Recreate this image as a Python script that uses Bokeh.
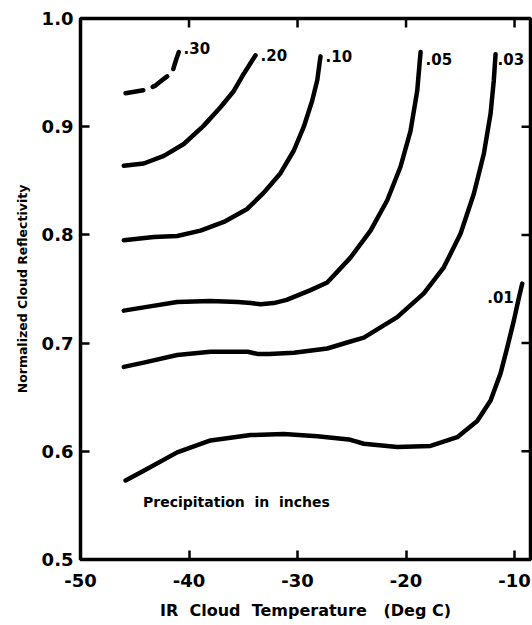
from bokeh.plotting import figure
from bokeh.models import FixedTicker, Range1d, Label
from bokeh.core.properties import value
from bokeh.embed import file_html
from bokeh.resources import INLINE

# ---- data ----
x_min, x_max = -50, -8.53
y_min, y_max = 0.5, 1.0
x_ticks = [-50, -40, -30, -20, -10]
x_tick_labels = ["-50", "-40", "-30", "-20", "-10"]
y_ticks = [0.5, 0.6, 0.7, 0.8, 0.9, 1.0]
y_tick_labels = ["0.5", "0.6", "0.7", "0.8", "0.9", "1.0"]

p30_x = [-45.85, -44.01, -43.09, -42.35, -41.55, -41.34, -41.15, -40.94]
p30_y = [0.931, 0.934, 0.938, 0.944, 0.950, 0.957, 0.963, 0.969]

p20_x = [-46.01, -44.17, -42.32, -40.48, -38.64, -37.10, -35.87, -34.95, -33.87]
p20_y = [0.864, 0.866, 0.873, 0.884, 0.901, 0.918, 0.933, 0.949, 0.966]

p10_x = [-46.01, -43.24, -41.09, -38.94, -36.79, -34.64, -33.11, -31.57, -30.34, -29.42, -28.65, -28.18, -27.94, -27.88]
p10_y = [0.795, 0.798, 0.799, 0.804, 0.812, 0.824, 0.839, 0.857, 0.878, 0.900, 0.924, 0.943, 0.961, 0.965]

p05_x = [-46.01, -44.17, -41.09, -38.02, -35.5, -34.3, -33.4, -32.2, -31.0, -28.80, -27.26, -25.12, -23.27, -21.73, -20.51, -19.59, -18.97, -18.66]
p05_y = [0.730, 0.733, 0.738, 0.739, 0.738, 0.737, 0.736, 0.737, 0.740, 0.749, 0.756, 0.779, 0.804, 0.832, 0.863, 0.896, 0.933, 0.969]

p03_x = [-46.01, -44.17, -41.09, -38.02, -34.6, -33.7, -32.6, -30.34, -27.26, -25.27, -23.89, -20.81, -18.36, -16.52, -14.98, -13.75, -12.83, -12.21, -11.91, -11.75]
p03_y = [0.678, 0.682, 0.689, 0.692, 0.692, 0.690, 0.690, 0.691, 0.695, 0.701, 0.705, 0.724, 0.746, 0.770, 0.801, 0.838, 0.875, 0.912, 0.943, 0.967]

p01_x = [-45.85, -44.17, -41.09, -38.02, -34.33, -31.26, -28.18, -25.27, -23.89, -20.81, -17.74, -15.28, -13.44, -12.21, -11.29, -10.67, -10.06, -9.60, -9.29]
p01_y = [0.573, 0.582, 0.599, 0.610, 0.615, 0.616, 0.614, 0.611, 0.607, 0.604, 0.605, 0.613, 0.628, 0.647, 0.672, 0.696, 0.721, 0.742, 0.755]

curve_labels = [".30", ".20", ".10", ".05", ".03", ".01"]
label_x = [-40.5, -33.41, -27.42, -18.20, -11.57, -12.52]
label_y = [0.973, 0.966, 0.965, 0.963, 0.963, 0.743]

FONT = "DejaVu Sans"
TICK_PX = 9

p = figure(width=532, height=625, output_backend="svg", toolbar_location=None,
           x_range=Range1d(x_min, x_max), y_range=Range1d(y_min, y_max),
           min_border_left=80, min_border_right=2, min_border_top=18, min_border_bottom=66)
p.background_fill_color = "white"
p.border_fill_color = "white"
p.outline_line_color = "black"
p.outline_line_width = 3.5
p.xgrid.grid_line_color = None
p.ygrid.grid_line_color = None

def style_axis(ax, ticks, labels):
    ax.ticker = FixedTicker(ticks=ticks)
    ax.axis_line_color = None
    ax.major_tick_in = TICK_PX
    ax.major_tick_out = 0
    ax.major_tick_line_width = 2.5
    ax.major_tick_line_color = "black"
    ax.minor_tick_line_color = None
    ax.major_label_overrides = {t: l for t, l in zip(ticks, labels)}
    ax.major_label_text_font = FONT
    ax.major_label_text_font_style = "bold"
    ax.major_label_text_font_size = "18px"
    ax.major_label_text_color = "black"
    ax.axis_label_text_font = FONT
    ax.axis_label_text_font_style = "bold"
    ax.axis_label_text_color = "black"

xa = p.xaxis[0]
style_axis(xa, x_ticks, x_tick_labels)
xa.major_label_standoff = 14
xa.axis_label = "IR\u00a0 Cloud\u00a0 Temperature\u00a0\u00a0 (Deg\u00a0C)"
xa.axis_label_text_font_size = "16px"
xa.axis_label_standoff = 11

ya = p.yaxis[0]
style_axis(ya, y_ticks, y_tick_labels)
ya.major_label_standoff = 7
ya.axis_label = "Normalized Cloud Reflectivity"
ya.axis_label_text_font_size = "12.5px"
ya.axis_label_standoff = 9

# inward ticks on the top and right frame edges
frame_w = 532 - 80 - 2
frame_h = 625 - 18 - 66
dy = TICK_PX * (y_max - y_min) / frame_h
dx = TICK_PX * (x_max - x_min) / frame_w
top_x = x_ticks[1:]
p.segment(x0=top_x, y0=[y_max] * len(top_x), x1=top_x, y1=[y_max - dy] * len(top_x),
          line_width=2.5, line_color="black")
right_y = y_ticks[1:-1]
p.segment(x0=[x_max] * len(right_y), y0=right_y, x1=[x_max - dx] * len(right_y), y1=right_y,
          line_width=2.5, line_color="black")

lw = 4.5
p.line(p30_x, p30_y, line_width=lw, color="black", line_dash="18 10", line_cap="round")
for xs, ys in [(p20_x, p20_y), (p10_x, p10_y), (p05_x, p05_y), (p03_x, p03_y), (p01_x, p01_y)]:
    p.line(xs, ys, line_width=lw, color="black", line_cap="round", line_join="round")

p.text(x=label_x, y=label_y, text=curve_labels, text_font=value(FONT), text_font_style="bold",
       text_font_size="15px", text_align="left", text_baseline="middle", color="black")

p.add_layout(Label(x=-44.24, y=0.553, text="Precipitation\u00a0 in\u00a0 inches", text_font=FONT,
                   text_font_style="bold", text_font_size="14px", text_baseline="middle",
                   text_color="black"))

open("out.html", "w").write(file_html(p, INLINE))
